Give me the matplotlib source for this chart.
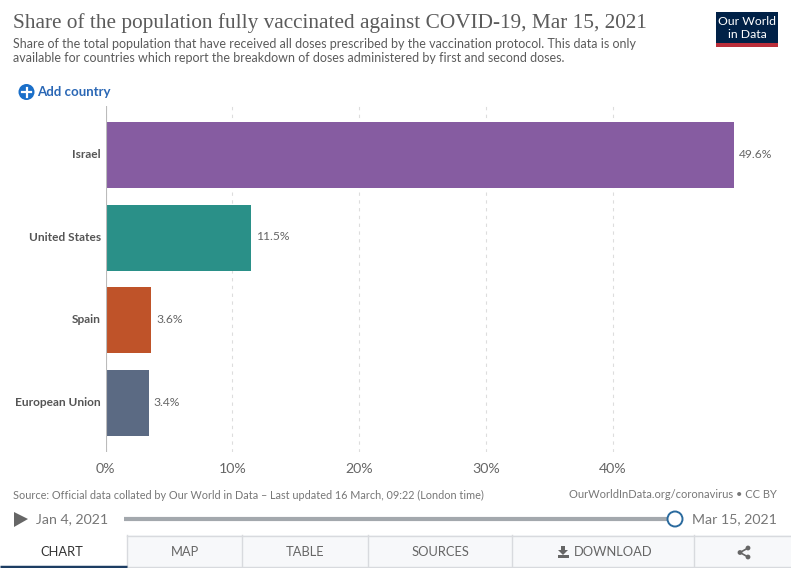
#!/usr/bin/env python3
"""Share of population fully vaccinated, OWID bar chart with its page furniture."""
import matplotlib
matplotlib.use('Agg')
import matplotlib.pyplot as plt
from matplotlib.patches import Rectangle, Circle, Polygon
from matplotlib.transforms import ScaledTranslation

W, H = 791, 568

countries = ['Israel', 'United States', 'Spain', 'European Union']
shares = [49.6, 11.5, 3.6, 3.4]
colors = ['#865ca1', '#2a9088', '#bf5329', '#5b6a83']
xticks = [0, 10, 20, 30, 40]

TITLE = 'Share of the population fully vaccinated against COVID-19, Mar 15, 2021'
SUB1 = ('Share of the total population that have received all doses prescribed by the '
        'vaccination protocol. This data is only')
SUB2 = 'available for countries which report the breakdown of doses administered by first and second doses.'
SOURCE = 'Source: Official data collated by Our World in Data – Last updated 16 March, 09:22 (London time)'

plt.rcParams['font.family'] = ['Lato', 'DejaVu Sans']

fig = plt.figure(figsize=(W / 100, H / 100), dpi=100, facecolor='white')

# chart axes placed in pixel terms: 0% at x=105.5, 40% at x=612.5, y from 106 to 452
x_left, x_right = 105.5, 735
y_top, y_bot = 106, 452
ax = fig.add_axes([x_left / W, 1 - y_bot / H, (x_right - x_left) / W, (y_bot - y_top) / H])
ax.set_xlim(0, (x_right - x_left) / 12.675)
ax.set_ylim(3.593, -0.593)
ax.patch.set_visible(False)
for s in ax.spines.values():
    s.set_visible(False)

ax.barh(range(len(countries)), shares, height=0.8, color=colors, zorder=2)
for i, v in enumerate(shares):
    ax.annotate(f'{v}%', (v, i), xytext=(3.6, 0.7), textcoords='offset points', va='center',
                fontsize=8.7, color='#666666')

ax.set_yticks(range(len(countries)), countries)
ax.set_xticks(xticks, [f'{t}%' for t in xticks])
ax.tick_params(axis='y', length=0, pad=3.5, labelsize=8.6, labelcolor='#555555')
# country labels sit a little above the bar centres
nudge = ScaledTranslation(0, 1.5 / 100, fig.dpi_scale_trans)
for lab in ax.get_yticklabels():
    lab.set_fontweight('bold')
    lab.set_transform(lab.get_transform() + nudge)
ax.tick_params(axis='x', length=0, pad=8, labelsize=10.2, labelcolor='#666666')
ax.grid(axis='x', color='#dddddd', ls=(0, (3, 4)), lw=0.8, zorder=0)
ax.axvline(0, color='#bbbbbb', lw=0.8, zorder=3)

# overlay in pixel coordinates for the header, footer and controls
ui = fig.add_axes([0, 0, 1, 1])
ui.set_xlim(0, W)
ui.set_ylim(H, 0)
ui.axis('off')

ui.text(13, 23, TITLE, family='Liberation Serif', fontsize=15.33, color='#5b5b5b', va='center')
ui.text(13, 43.5, SUB1, fontsize=9.01, color='#5b5b5b', va='center')
ui.text(13, 58.5, SUB2, fontsize=9.01, color='#5b5b5b', va='center')

# logo
ui.add_patch(Rectangle((716, 12), 62, 34, color='#002147', lw=0))
ui.add_patch(Rectangle((716, 43), 62, 4, color='#ba2e3a', lw=0))
ui.text(747, 21.5, 'Our World', color='white', fontsize=8.8, ha='center', va='center')
ui.text(747, 35, 'in Data', color='white', fontsize=8.8, ha='center', va='center')

# add country
ui.add_patch(Circle((26.5, 92), 8, color='#1a6fc9', lw=0))
ui.plot([22, 31], [92, 92], color='white', lw=1.6)
ui.plot([26.5, 26.5], [87.5, 96.5], color='white', lw=1.6)
ui.text(37.5, 92, 'Add country', color='#2a67b5', fontsize=9.5, fontweight='bold', va='center')

# footer
ui.text(13, 495, SOURCE, fontsize=7.83, color='#777777', va='center')
ui.text(777, 495, 'OurWorldInData.org/coronavirus • CC BY', fontsize=7.97, color='#777777',
        va='center', ha='right')

# timeline
ui.add_patch(Polygon([(14, 512), (28, 519), (14, 527)], color='#666666', lw=0))
ui.text(35.5, 519, 'Jan 4, 2021', fontsize=10.2, color='#777777', va='center')
ui.text(692, 519, 'Mar 15, 2021', fontsize=10.2, color='#777777', va='center')
ui.plot([124, 675], [519, 519], color='#a3a8ad', lw=3, solid_capstyle='butt')
ui.add_patch(Circle((675, 519), 7.5, facecolor='white', edgecolor='#2a6a9e', lw=1.4, zorder=4))

# tabs
ui.add_patch(Rectangle((127, 535), 664, 33, facecolor='#f7f8fa', edgecolor='none'))
ui.plot([127, 791], [535.5, 535.5], color='#d8dade', lw=1)
ui.plot([127, 791], [567, 567], color='#d8dade', lw=1)
for tx in [126.5, 241.5, 367.5, 511.5, 693.5]:
    ui.plot([tx, tx], [535, 568], color='#d8dade', lw=1)
ui.plot([0, 127], [566.5, 566.5], color='#1d3d63', lw=2.5, solid_capstyle='butt')
for tx, label, c in [(62, 'CHART', '#333333'), (185, 'MAP', '#666666'),
                     (305.5, 'TABLE', '#666666'), (440.5, 'SOURCES', '#666666')]:
    ui.text(tx, 552.5, label, fontsize=9.3, color=c, ha='center', va='center')
ui.text(574, 552.5, 'DOWNLOAD', fontsize=9.3, color='#666666', va='center')

# download icon
ui.add_patch(Polygon([(561, 546), (565, 546), (565, 550), (568, 550), (563, 555), (558, 550), (561, 550)],
                     color='#666666', lw=0))
ui.add_patch(Rectangle((557.5, 554.5), 11, 3.5, color='#666666', lw=0))

# share icon
pts = [(748, 548), (740, 552.5), (748, 557)]
ui.plot([p[0] for p in pts], [p[1] for p in pts], color='#666666', lw=1.2)
for p in pts:
    ui.add_patch(Circle(p, 2.4, color='#666666', lw=0))

fig.savefig('out.png', dpi=100)
